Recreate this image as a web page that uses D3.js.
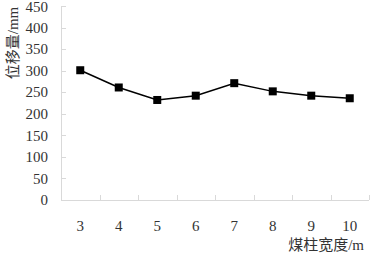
<!DOCTYPE html>
<html>
<head>
<meta charset="utf-8">
<script src="https://cdn.jsdelivr.net/npm/d3@7"></script>
<style>
  body { margin: 0; background: #fff; }
  text { font-family: "Liberation Serif", "Noto Sans CJK SC", serif; }
</style>
</head>
<body>
<svg width="370" height="257"></svg>
<script>
const widths = ["3", "4", "5", "6", "7", "8", "9", "10"];
const displacement = [301, 261, 232, 242, 271, 252, 242, 236];
const yTicks = [0, 50, 100, 150, 200, 250, 300, 350, 400, 450];

const svg = d3.select("svg");
const plotLeft = 61, plotRight = 369, plotTop = 6, plotBottom = 200;

const x = d3.scaleBand().domain(widths).range([plotLeft, plotRight]);
const y = d3.scaleLinear().domain([0, 450]).range([plotBottom, plotTop]);

const axisColor = "#d9d9d9";

// y axis
svg.append("line")
  .attr("x1", plotLeft + 0.5).attr("x2", plotLeft + 0.5)
  .attr("y1", plotTop).attr("y2", plotBottom)
  .attr("stroke", axisColor);
svg.selectAll(".ytick")
  .data(yTicks)
  .enter()
  .append("line")
  .attr("x1", plotLeft).attr("x2", plotLeft + 5)
  .attr("y1", (d) => Math.round(y(d)) + 0.5)
  .attr("y2", (d) => Math.round(y(d)) + 0.5)
  .attr("stroke", axisColor);
svg.selectAll(".ylab")
  .data(yTicks)
  .enter()
  .append("text")
  .attr("x", 48)
  .attr("y", (d) => Math.max(y(d), 7))
  .attr("dy", "0.35em")
  .attr("text-anchor", "end")
  .attr("font-size", 15)
  .attr("fill", "#333")
  .text((d) => d);

// x axis
svg.append("line")
  .attr("x1", plotLeft).attr("x2", plotRight)
  .attr("y1", plotBottom + 0.5).attr("y2", plotBottom + 0.5)
  .attr("stroke", axisColor);
const bounds = widths.map((d) => x(d)).concat([plotRight]);
svg.selectAll(".xtick")
  .data(bounds)
  .enter()
  .append("line")
  .attr("x1", (d) => Math.round(d) + 0.5)
  .attr("x2", (d) => Math.round(d) + 0.5)
  .attr("y1", plotBottom).attr("y2", plotBottom - 5)
  .attr("stroke", axisColor);
svg.selectAll(".xlab")
  .data(widths)
  .enter()
  .append("text")
  .attr("x", (d) => x(d) + x.bandwidth() / 2)
  .attr("y", 226)
  .attr("dy", "0.35em")
  .attr("text-anchor", "middle")
  .attr("font-size", 15)
  .attr("fill", "#333")
  .text((d) => d);

// line + markers
const line = d3.line()
  .x((d, i) => x(widths[i]) + x.bandwidth() / 2)
  .y((d) => y(d));
svg.append("path")
  .datum(displacement)
  .attr("d", line)
  .attr("fill", "none")
  .attr("stroke", "#000")
  .attr("stroke-width", 1.5);
svg.selectAll(".pt")
  .data(displacement)
  .enter()
  .append("rect")
  .attr("x", (d, i) => x(widths[i]) + x.bandwidth() / 2 - 4)
  .attr("y", (d) => y(d) - 4)
  .attr("width", 8)
  .attr("height", 8)
  .attr("fill", "#000");

// axis titles
svg.append("text")
  .attr("transform", "translate(13,43) rotate(-90)")
  .attr("text-anchor", "middle")
  .attr("dy", "0.35em")
  .attr("font-size", 15)
  .attr("fill", "#333")
  .text("位移量/mm");
svg.append("text")
  .attr("x", 364)
  .attr("y", 245)
  .attr("dy", "0.35em")
  .attr("text-anchor", "end")
  .attr("font-size", 15)
  .attr("fill", "#333")
  .text("煤柱宽度/m");
</script>
</body>
</html>
